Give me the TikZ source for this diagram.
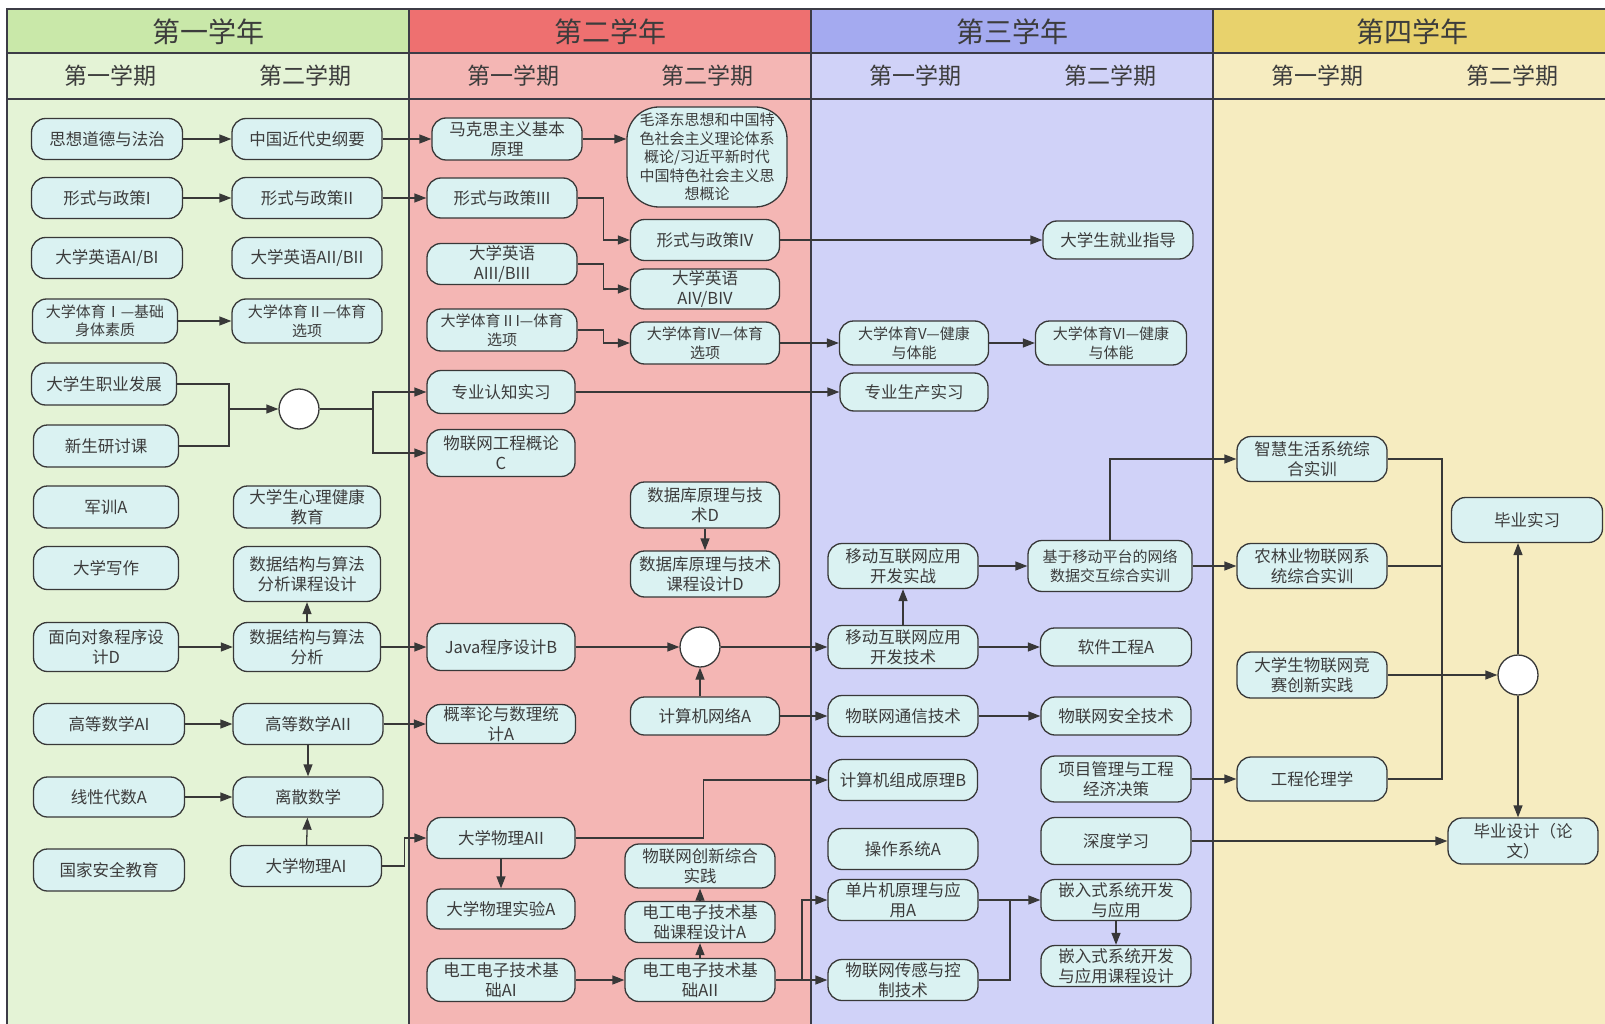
\documentclass[tikz,border=0pt]{standalone}
\usepackage{fontspec}
\setmainfont{Noto Sans CJK SC}
\usetikzlibrary{arrows.meta}
\definecolor{yAhead}{HTML}{C9E8A9}
\definecolor{yAbody}{HTML}{E4F3D6}
\definecolor{yBhead}{HTML}{EE7070}
\definecolor{yBbody}{HTML}{F4B6B4}
\definecolor{yChead}{HTML}{A4AAF0}
\definecolor{yCbody}{HTML}{D0D2F8}
\definecolor{yDhead}{HTML}{E8D26C}
\definecolor{yDbody}{HTML}{F6ECC0}
\definecolor{nodefill}{HTML}{DAF2F2}
\definecolor{linecol}{HTML}{383838}
\definecolor{txtcol}{HTML}{3C3C3C}
\definecolor{lanecol}{HTML}{3C3C46}
\begin{document}
\begin{tikzpicture}[x=1pt,y=-1pt,
  course/.style={draw=linecol, line width=1.3pt, fill=nodefill, rounded corners=14pt,
    minimum width=150pt, minimum height=41pt, inner sep=1pt, align=center, text=txtcol,
    font=\fontsize{16.5}{20}\selectfont},
  small/.style={font=\fontsize{15}{18.5}\selectfont},
  hub/.style={circle, draw=linecol, line width=1.3pt, fill=white, minimum size=40pt, inner sep=0pt},
  arr/.style={draw=linecol, line width=1.3pt, -{Triangle[length=12pt,width=9pt]}},
  wire/.style={draw=linecol, line width=1.3pt},
  lane/.style={draw=lanecol, line width=2.2pt},
  yeartitle/.style={text=txtcol, font=\fontsize{28}{30}\selectfont},
  semtitle/.style={text=txtcol, font=\fontsize{23}{26}\selectfont}]
\useasboundingbox (0,0) rectangle (1605,1024);
% lanes
\fill[yAbody] (7,9) rectangle (409,1024);
\fill[yBbody] (409,9) rectangle (811,1024);
\fill[yCbody] (811,9) rectangle (1213,1024);
\fill[yDbody] (1213,9) rectangle (1605,1024);
\fill[yAhead] (7,9) rectangle (409,53);
\fill[yBhead] (409,9) rectangle (811,53);
\fill[yChead] (811,9) rectangle (1213,53);
\fill[yDhead] (1213,9) rectangle (1605,53);
\draw[lane] (7,1024) -- (7,9) -- (1605,9);
\draw[lane] (7,53) -- (1605,53);
\draw[lane] (7,99) -- (1605,99);
\draw[lane] (409,9) -- (409,1024);
\draw[lane] (811,9) -- (811,1024);
\draw[lane] (1213,9) -- (1213,1024);
% titles
\node[yeartitle] (t1) at (208,32) {第一学年};
\node[yeartitle] (t2) at (610,32) {第二学年};
\node[yeartitle] (t3) at (1012,32) {第三学年};
\node[yeartitle] (t4) at (1412,32) {第四学年};
\node[semtitle] (s11) at (110,76) {第一学期};
\node[semtitle] (s12) at (305,76) {第二学期};
\node[semtitle] (s21) at (513,76) {第一学期};
\node[semtitle] (s22) at (707,76) {第二学期};
\node[semtitle] (s31) at (915,76) {第一学期};
\node[semtitle] (s32) at (1110,76) {第二学期};
\node[semtitle] (s41) at (1317,76) {第一学期};
\node[semtitle] (s42) at (1512,76) {第二学期};
% year 1
\node[course, minimum width=151pt] (sx) at (107,139) {思想道德与法治};
\node[course] (zg) at (307,139) {中国近代史纲要};
\node[course, minimum width=151pt] (xc1) at (107,198) {形式与政策I};
\node[course] (xc2) at (307,198) {形式与政策II};
\node[course, minimum width=151pt] (yy1) at (107,258) {大学英语AI/BI};
\node[course] (yy2) at (307,258) {大学英语AII/BII};
\node[course, small, minimum width=145pt, minimum height=44pt] (ty1) at (105,321) {大学体育Ⅰ—基础\\身体素质};
\node[course, small, minimum height=44pt] (ty2) at (307,321) {大学体育Ⅱ—体育\\选项};
\node[course, minimum width=145pt, minimum height=42pt] (zy) at (104,384) {大学生职业发展};
\node[course, minimum width=145pt, minimum height=42pt] (xs) at (106,446) {新生研讨课};
\node[hub] (c1) at (299,409) {};
\node[course, minimum width=145pt, minimum height=42pt] (jx) at (106,507) {军训A};
\node[course, minimum width=147pt, minimum height=42pt] (xl) at (307,507) {大学生心理健康\\教育};
\node[course, minimum width=145pt, minimum height=43pt] (xz) at (106,568) {大学写作};
\node[course, minimum width=147pt, minimum height=55pt] (sjsj) at (307,574) {数据结构与算法\\分析课程设计};
\node[course, minimum width=145pt, minimum height=49pt] (mx) at (106,647) {面向对象程序设\\计D};
\node[course, minimum width=147pt, minimum height=49pt] (sj) at (307,647) {数据结构与算法\\分析};
\node[course, minimum width=151pt] (gs1) at (109,724) {高等数学AI};
\node[course] (gs2) at (308,724) {高等数学AII};
\node[course, minimum width=151pt, minimum height=40pt] (xd) at (109,797) {线性代数A};
\node[course, minimum height=40pt] (ls) at (308,797) {离散数学};
\node[course, minimum width=151pt, minimum height=42pt] (aq) at (109,870) {国家安全教育};
\node[course, minimum width=151pt] (wl1) at (306,866) {大学物理AI};
% year 2
\node[course, minimum height=42pt] (mk) at (507,139) {马克思主义基本\\原理};
\node[course, small, minimum width=160pt, minimum height=100pt, rounded corners=32pt] (mz) at (707,157) {毛泽东思想和中国特\\色社会主义理论体系\\概论/习近平新时代\\中国特色社会主义思\\想概论};
\node[course, minimum height=40pt] (xc3) at (502,198) {形式与政策III};
\node[course, minimum width=149pt] (xc4) at (705,240) {形式与政策IV};
\node[course] (yy3) at (502,264) {大学英语\\AIII/BIII};
\node[course, minimum width=149pt, minimum height=40pt] (yy4) at (705,289) {大学英语\\AIV/BIV};
\node[course, small, minimum height=42pt] (ty3) at (502,330) {大学体育ⅡI—体育\\选项};
\node[course, small, minimum width=149pt, minimum height=42pt] (ty4) at (705,343) {大学体育IV—体育\\选项};
\node[course, minimum width=148pt, minimum height=43pt] (zyrz) at (501,392) {专业认知实习};
\node[course, minimum width=148pt, minimum height=47pt] (wlgl) at (501,453) {物联网工程概论\\C};
\node[course, minimum width=149pt, minimum height=46pt] (sjk) at (705,505) {数据库原理与技\\术D};
\node[course, minimum width=149pt, minimum height=46pt] (sjkk) at (705,574) {数据库原理与技术\\课程设计D};
\node[course, minimum width=148pt, minimum height=47pt] (java) at (501,647) {Java程序设计B};
\node[hub] (c2) at (700,647) {};
\node[course, minimum width=149pt, minimum height=38pt] (jw) at (705,716) {计算机网络A};
\node[course, minimum width=149pt, minimum height=39pt] (gl) at (501,724) {概率论与数理统\\计A};
\node[course, minimum width=148pt] (wl2) at (501,838) {大学物理AII};
\node[course, minimum width=148pt, minimum height=40pt] (sy) at (501,909) {大学物理实验A};
\node[course, minimum height=44pt] (cx) at (700,866) {物联网创新综合\\实践};
\node[course] (dgk) at (700,922) {电工电子技术基\\础课程设计A};
\node[course, minimum width=148pt, minimum height=43pt] (dg1) at (501,980) {电工电子技术基\\础AI};
\node[course, minimum height=43pt] (dg2) at (700,980) {电工电子技术基\\础AII};
% year 3
\node[course, minimum height=38pt] (jyzd) at (1118,240) {大学生就业指导};
\node[course, small, minimum width=149pt, minimum height=44pt] (ty5) at (914,343) {大学体育V—健康\\与体能};
\node[course, small, minimum width=151pt, minimum height=44pt] (ty6) at (1111,343) {大学体育VI—健康\\与体能};
\node[course, minimum width=148pt, minimum height=38pt] (zysc) at (914,392) {专业生产实习};
\node[course, minimum height=45pt] (kfsz) at (903,566) {移动互联网应用\\开发实战};
\node[course, small, minimum width=164pt, minimum height=51pt] (jy) at (1110,566) {基于移动平台的网络\\数据交互综合实训};
\node[course, minimum height=43pt] (kfjs) at (903,647) {移动互联网应用\\开发技术};
\node[course, minimum width=151pt, minimum height=38pt] (rj) at (1116,647) {软件工程A};
\node[course] (tx) at (903,716) {物联网通信技术};
\node[course, minimum height=38pt] (aqjs) at (1116,716) {物联网安全技术};
\node[course, minimum width=149pt] (zc) at (903,780) {计算机组成原理B};
\node[course, minimum height=46pt] (xm) at (1116,779) {项目管理与工程\\经济决策};
\node[course, minimum height=47pt] (sd) at (1116,841) {深度学习};
\node[course] (cz) at (903,849) {操作系统A};
\node[course] (dp) at (903,900) {单片机原理与应\\用A};
\node[course] (cg) at (903,980) {物联网传感与控\\制技术};
\node[course] (qr) at (1116,900) {嵌入式系统开发\\与应用};
\node[course] (qrk) at (1116,966) {嵌入式系统开发\\与应用课程设计};
% year 4
\node[course, minimum height=45pt] (zh) at (1312,459) {智慧生活系统综\\合实训};
\node[course, minimum height=45pt] (nl) at (1312,566) {农林业物联网系\\统综合实训};
\node[course, minimum width=151pt, minimum height=45pt] (bs) at (1527,520) {毕业实习};
\node[course, minimum height=46pt] (js) at (1312,675) {大学生物联网竞\\赛创新实践};
\node[hub] (c3) at (1518,675) {};
\node[course, minimum height=44pt] (gc) at (1312,779) {工程伦理学};
\node[course, minimum height=46pt] (bysj) at (1523,841) {毕业设计（论\\文）};
% connectors year 1
\draw[arr] (sx) -- (zg);
\draw[arr] (xc1) -- (xc2);
\draw[arr] (ty1) -- (ty2);
\draw[arr] (zg) -- (mk);
\draw[arr] (xc2) -- (xc3);
\coordinate (m1) at (229,409);
\coordinate (s1) at (373,409);
\draw[wire] (zy.east) -| (m1);
\draw[wire] (xs.east) -| (m1);
\draw[arr] (m1) -- (c1);
\draw[wire] (c1) -- (s1);
\draw[arr] (s1) |- (zyrz.west);
\draw[arr] (s1) |- (wlgl.west);
\draw[arr] (sj) -- (sjsj);
\draw[arr] (mx) -- (sj);
\draw[arr] (sj) -- (java);
\draw[arr] (gs1) -- (gs2);
\draw[arr] (gs2) -- (ls);
\draw[arr] (gs2) -- (gl);
\draw[arr] (xd) -- (ls);
\draw[arr] (wl1) -- (ls);
\draw[arr] (wl1.east) -- ++(22,0) |- (wl2.west);
% connectors year 2
\draw[arr] (mk.east) -- (mk.east -| mz.west);
\draw[arr] (xc3.east) -- ++(26,0) |- (xc4.west);
\draw[arr] (yy3.east) -- ++(26,0) |- (yy4.west);
\draw[arr] (ty3.east) -- ++(26,0) |- (ty4.west);
\draw[arr] (xc4) -- (jyzd);
\draw[arr] (ty4) -- (ty5);
\draw[arr] (zyrz) -- (zysc);
\draw[arr] (sjk) -- (sjkk);
\draw[arr] (java) -- (c2);
\draw[arr] (c2 |- jw.north) -- (c2.south);
\draw[arr] (c2) -- (kfjs);
\draw[arr] (jw) -- (tx);
\draw[arr] (wl2.east) -- ++(128,0) |- (zc.west);
\draw[arr] (wl2) -- (sy);
\draw[arr] (dg1) -- (dg2);
\draw[arr] (dg2) -- (dgk);
\draw[arr] (dgk) -- (cx);
\draw[arr] (dg2) -- (cg);
\coordinate (e1) at (802,980);
\draw[arr] (e1) |- (dp.west);
% connectors year 3
\draw[arr] (ty5) -- (ty6);
\draw[arr] (kfjs) -- (kfsz);
\draw[arr] (kfsz) -- (jy);
\draw[arr] (jy.north) |- (zh.west);
\draw[arr] (jy) -- (nl);
\draw[arr] (kfjs) -- (rj);
\draw[arr] (tx) -- (aqjs);
\draw[arr] (dp) -- (qr);
\coordinate (e2) at (1010,900);
\draw[wire] (cg.east) -| (e2);
\draw[arr] (qr) -- (qrk);
\draw[arr] (xm) -- (gc);
\draw[arr] (sd) -- (bysj);
% connectors year 4
\coordinate (bus) at (1442,675);
\draw[wire] (zh.east) -| (bus);
\draw[wire] (nl.east) -| (bus);
\draw[wire] (gc.east) -| (bus);
\draw[wire] (js.east) -- (bus);
\draw[arr] (bus) -- (c3);
\draw[arr] (c3) -- (c3 |- bs.south);
\draw[arr] (c3) -- (c3 |- bysj.north);
\end{tikzpicture}
\end{document}
